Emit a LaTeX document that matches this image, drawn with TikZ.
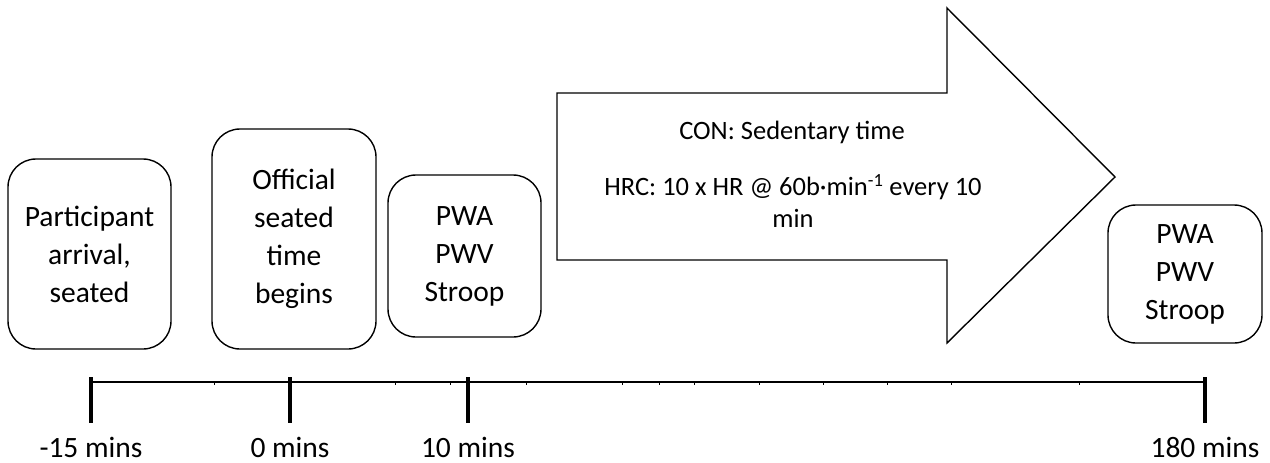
\documentclass[tikz,border=0pt]{standalone}
\usepackage{fontspec}
\setmainfont{Carlito}
\tikzset{
  stage/.style={draw, rounded corners=28pt, line width=1.4pt, align=center, inner sep=0pt,
    font=\fontsize{29.5}{38}\selectfont},
  armtext/.style={align=center, font=\fontsize{26.5}{32}\selectfont},
}
\begin{document}
\begin{tikzpicture}[x=1pt,y=-1pt]
\useasboundingbox (0,0) rectangle (1270,463);
\node[stage, minimum width=163pt, minimum height=190pt] (arrive) at (89.5,254) {Participant\\arrival,\\seated};
\node[stage, minimum width=164pt, minimum height=220pt] (begin) at (294,239) {Official\\seated\\time\\begins};
\node[stage, minimum width=153pt, minimum height=162pt] (pre) at (464.5,256) {PWA\\PWV\\Stroop};
\node[stage, minimum width=154pt, minimum height=138pt] (post) at (1185,274) {PWA\\PWV\\Stroop};
\draw[line width=1.4pt, line join=miter] (557,93) -- (947,93) -- (947,8) -- (1115,177)
  -- (947,343) -- (947,260) -- (557,260) -- cycle;
\node[armtext] (con) at (792,132) {CON: Sedentary time};
\node[armtext] (hrc) at (793,201) {HRC: 10 x HR @ 60b·min\textsuperscript{-1} every 10\\min};
\draw[line width=2.7pt] (90,382) -- (1206,382);
\foreach \x in {214,395,450,526,622,659,694,759,823,887,951,1079}
  \draw[line width=1pt] (\x,382) -- (\x,384.8);
\foreach \x/\l in {91/-15 mins,290/0 mins,468/10 mins,1205/180 mins}{
  \draw[line width=3.5pt] (\x,377) -- (\x,423);
  \node[font=\fontsize{29.5}{34}\selectfont] (lab\x) at (\x,447) {\l};
}
\end{tikzpicture}
\end{document}
